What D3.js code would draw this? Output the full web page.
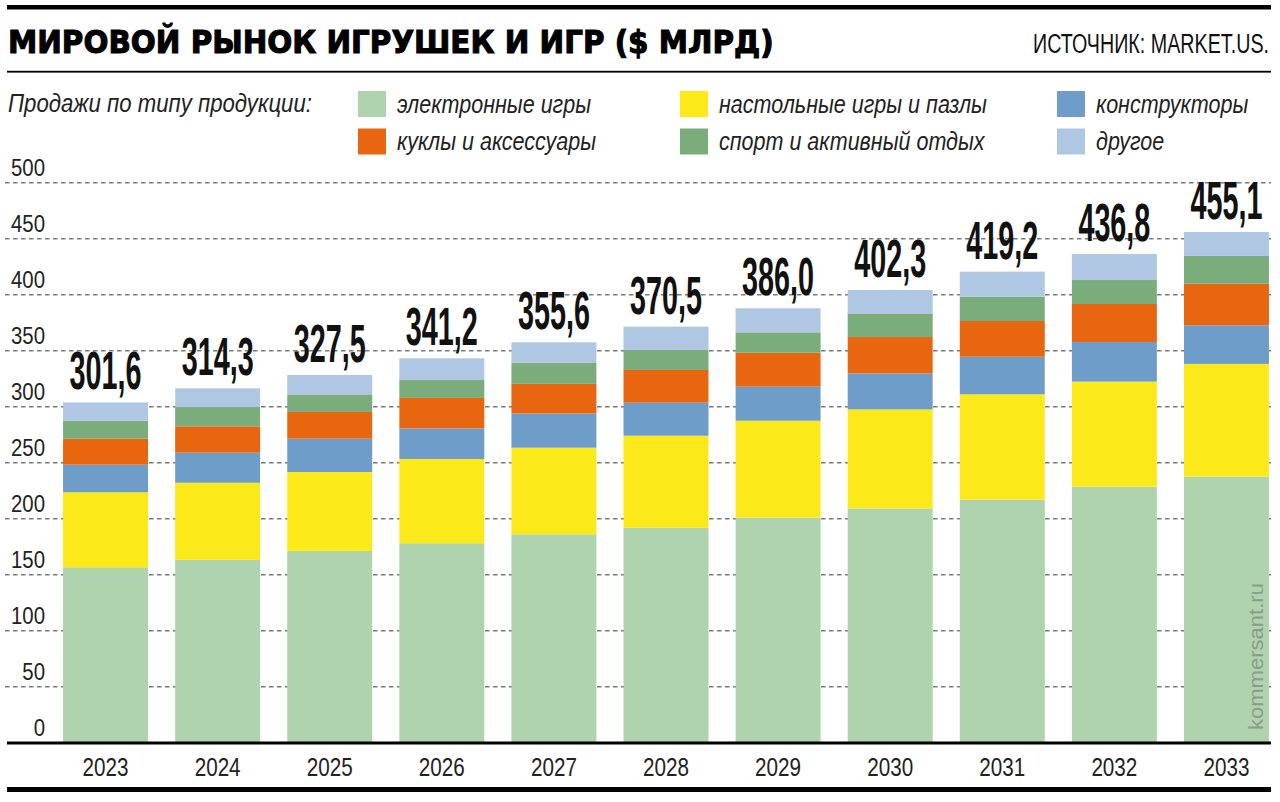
<!DOCTYPE html>
<html>
<head>
<meta charset="utf-8">
<script src="https://cdn.jsdelivr.net/npm/d3@7"></script>
<style>
  body { margin: 0; background: #fff; }
  svg { display: block; font-family: "Liberation Sans", Arial, sans-serif; }
</style>
</head>
<body>
<svg id="chart" width="1280" height="802"></svg>
<script>
// data ($ bn), stack goes bottom -> top
const years = ["2023", "2024", "2025", "2026", "2027", "2028", "2029", "2030", "2031", "2032", "2033"];
const electronic   = [156.6, 163.4, 171.2, 178.1, 186.1, 192.0, 200.9, 209.2, 217.0, 228.6, 237.6];
const board        = [67.0, 68.7, 70.5, 75.2, 77.3, 82.1, 86.6, 88.4, 94.1, 93.8, 100.6];
const constructors = [24.6, 26.8, 29.7, 27.3, 30.5, 29.5, 30.4, 32.2, 33.5, 35.4, 34.5];
const dolls        = [23.2, 23.6, 23.9, 27.2, 26.5, 29.2, 30.3, 32.4, 31.9, 33.9, 37.1];
const sport        = [16.0, 17.2, 15.7, 16.0, 19.0, 17.8, 18.2, 20.6, 21.7, 21.4, 24.8];
const other        = [16.4, 16.7, 17.3, 19.4, 18.1, 20.9, 21.5, 21.4, 22.4, 23.2, 21.4];
const totals       = ["301,6", "314,3", "327,5", "341,2", "355,6", "370,5", "386,0", "402,3", "419,2", "436,8", "455,1"];
const yTicks = [0, 50, 100, 150, 200, 250, 300, 350, 400, 450, 500];

const seriesKeys  = ["electronic", "board", "constructors", "dolls", "sport", "other"];
const seriesNames = ["электронные игры", "настольные игры и пазлы", "конструкторы",
                     "куклы и аксессуары", "спорт и активный отдых", "другое"];
const seriesColors = ["#aed3ad", "#fbe91a", "#6f9dc9", "#e8660f", "#7aad7b", "#b0c7e4"];

const title = "МИРОВОЙ РЫНОК ИГРУШЕК И ИГР ($ МЛРД)";
const source = "ИСТОЧНИК: MARKET.US.";
const legendTitle = "Продажи по типу продукции:";

// table for d3.stack
const values = [electronic, board, constructors, dolls, sport, other];
const table = years.map((year, i) => {
  let row = { year: year };
  seriesKeys.forEach((k, s) => row[k] = values[s][i]);
  return row;
});

const svg = d3.select("#chart");

// squeeze text horizontally (the original uses a condensed face):
// move x/y into a transform and scale the x axis around the anchor
function squeeze(sel, ratio)
{
  sel.each(function() {
    let t = d3.select(this);
    let tx = +t.attr("x") || 0, ty = +t.attr("y") || 0;
    t.attr("x", 0).attr("y", 0)
        .attr("transform", `translate(${tx},${ty}) scale(${ratio},1)`);
  });
}
function ratioFor(size, weight, style, text, width, family)
{
  let t = svg.append("text").attr("font-size", size).attr("font-weight", weight)
      .attr("font-style", style).text(text);
  if (family) t.attr("font-family", family);
  let r = width / t.node().getComputedTextLength();
  t.remove();
  return r;
}

// header rules
const left = 7, right = 1271;
svg.append("rect").attr("x", left).attr("y", 5).attr("width", right - left).attr("height", 4.5).attr("fill", "#000");
svg.append("rect").attr("x", left).attr("y", 70.8).attr("width", right - left).attr("height", 1.8).attr("fill", "#000");

const titleFont = "'DejaVu Sans', sans-serif";
svg.append("text")
    .attr("x", 8).attr("y", 52.5)
    .attr("font-family", titleFont)
    .attr("font-size", 32).attr("font-weight", "bold")
    .attr("stroke", "#000").attr("stroke-width", 1.1)
    .text(title)
    .call(squeeze, ratioFor(32, "bold", "normal", title, 766, titleFont));

svg.append("text")
    .attr("x", 1269).attr("y", 53).attr("text-anchor", "end")
    .attr("font-size", 28).attr("fill", "#111")
    .text(source)
    .call(squeeze, ratioFor(28, "normal", "normal", source, 236));

// legend
const legendRatio = ratioFor(26, "normal", "italic", legendTitle, 304);
svg.append("text")
    .attr("x", 8).attr("y", 112)
    .attr("font-size", 26).attr("font-style", "italic").attr("fill", "#222")
    .text(legendTitle)
    .call(squeeze, legendRatio);

const legendCols = [358, 680, 1057];
const legendRows = [91, 128.5];
const legend = svg.append("g").selectAll("g").data(seriesKeys).join("g")
    .attr("transform", (d, i) => `translate(${legendCols[i % 3]},${legendRows[Math.floor(i / 3)]})`);
legend.append("rect").attr("width", 28).attr("height", 26).attr("fill", (d, i) => seriesColors[i]);
legend.append("text")
    .attr("x", 39).attr("y", 21.5)
    .attr("font-size", 26).attr("font-style", "italic").attr("fill", "#222")
    .text((d, i) => seriesNames[i])
    .call(squeeze, legendRatio * 0.97);

// scales
const x = d3.scaleBand().domain(years).range([49.5, 1282.5]).paddingInner(0.242).paddingOuter(0.121);
const y = d3.scaleLinear().domain([0, 500]).range([742.7, 182.7]);

// grid + y labels
const yRatio = ratioFor(24, "normal", "normal", "500", 34);
const grid = svg.append("g").selectAll("g").data(yTicks).join("g");
grid.filter(d => d > 0).append("line")
    .attr("x1", 5).attr("x2", right)
    .attr("y1", d => y(d)).attr("y2", d => y(d))
    .attr("stroke", "#7a7a7a").attr("stroke-width", 1.5).attr("stroke-dasharray", "4.5,3.5");
grid.append("text")
    .attr("x", 45).attr("y", d => y(d) - 7)
    .attr("text-anchor", "end").attr("font-size", 24).attr("fill", "#222")
    .text(d => d)
    .call(squeeze, yRatio);

// stacked bars
const stack = d3.stack().keys(seriesKeys)(table);
svg.append("g").selectAll("g").data(stack).join("g")
    .attr("fill", (d, i) => seriesColors[i])
  .selectAll("rect").data(d => d).join("rect")
    .attr("x", d => x(d.data.year))
    .attr("width", x.bandwidth())
    .attr("y", d => y(d[1]))
    .attr("height", d => y(d[0]) - y(d[1]));

// totals above bars
const topLayer = stack[stack.length - 1];
const totRatio = ratioFor(54, "bold", "normal", "301,6", 72);
svg.append("g").selectAll("text").data(topLayer).join("text")
    .attr("x", d => x(d.data.year) + x.bandwidth() / 2)
    .attr("y", d => y(d[1]) - 13)
    .attr("text-anchor", "middle")
    .attr("font-size", 54).attr("font-weight", "bold").attr("fill", "#111")
    .text((d, i) => totals[i])
    .call(squeeze, totRatio);

// x axis: baseline + year labels
svg.append("rect").attr("x", left).attr("y", 741.5).attr("width", right - left).attr("height", 3).attr("fill", "#000");
const xAxis = svg.append("g").attr("transform", "translate(0,743)")
    .call(d3.axisBottom(x).tickSize(0).tickPadding(0));
xAxis.select(".domain").remove();
const yearRatio = ratioFor(26, "normal", "normal", "2023", 46);
xAxis.selectAll("text")
    .attr("dy", null).attr("y", 33)
    .attr("font-family", "'Liberation Sans', Arial, sans-serif")
    .attr("font-size", 26).attr("fill", "#222")
    .call(squeeze, yearRatio);

svg.append("rect").attr("x", left).attr("y", 787).attr("width", right - left).attr("height", 5).attr("fill", "#000");

// watermark
const wmRatio = ratioFor(20, "normal", "normal", "kommersant.ru", 147);
svg.append("text")
    .attr("transform", `translate(1263,730) rotate(-90) scale(${wmRatio},1)`)
    .attr("font-size", 20).attr("fill", "#8c9c8c")
    .text("kommersant.ru");
</script>
</body>
</html>
